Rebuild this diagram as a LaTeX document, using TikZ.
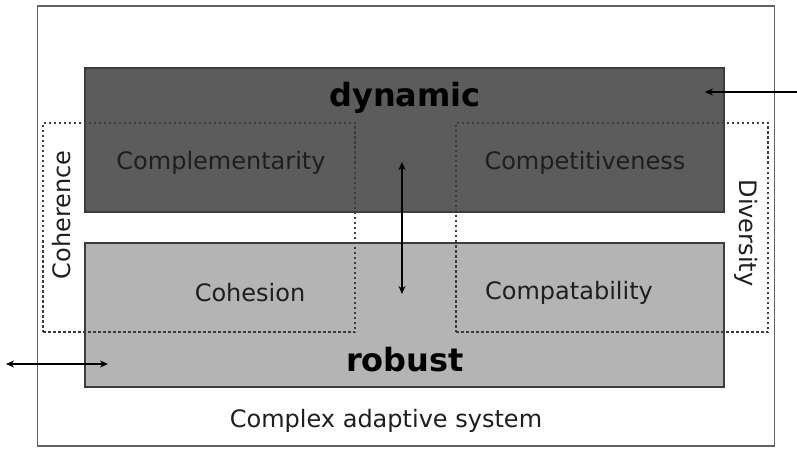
\documentclass[tikz,border=0pt]{standalone}
\usepackage{fontspec}
\setmainfont{DejaVu Sans}
\usetikzlibrary{arrows.meta}
\definecolor{darkfill}{RGB}{92,92,92}
\definecolor{lightfill}{RGB}{180,180,180}
\definecolor{edge}{RGB}{60,60,60}
\definecolor{txt}{RGB}{30,30,30}
\tikzset{
  outerbox/.style={draw=edge!80, line width=1.5pt, fill=white, minimum width=737pt, minimum height=440pt, inner sep=0pt},
  darkbox/.style={draw=edge, line width=1.2pt, fill=darkfill, minimum width=639pt, minimum height=144pt, inner sep=0pt},
  lightbox/.style={draw=edge, line width=1.2pt, fill=lightfill, minimum width=639pt, minimum height=144pt, inner sep=0pt},
  dotbox/.style={draw=edge, line width=1.3pt, dash pattern=on 2.5pt off 2.5pt, minimum width=312pt, minimum height=209pt, inner sep=0pt},
  lbl/.style={text=txt, font=\fontsize{24}{28}\selectfont, inner sep=0pt},
  big/.style={text=black, font=\fontsize{32}{36}\selectfont\bfseries, inner sep=0pt},
  arr/.style={line width=1.2pt, draw=black, {Stealth[length=8pt,width=7pt]}-{Stealth[length=8pt,width=7pt]}},
  sarr/.style={line width=1.2pt, draw=black, -{Stealth[length=8pt,width=7pt]}}
}
\begin{document}
\begin{tikzpicture}[x=1pt,y=-1pt]
\useasboundingbox (0,0) rectangle (797,449);
\fill[white] (0,0) rectangle (797,449);
\node[outerbox] (outer) at (406,226) {};
\node[darkbox] (dyn) at (404.5,140) {};
\node[lightbox] (rob) at (404.5,315) {};
\node[dotbox] (coh) at (199,227.5) {};
\node[dotbox] (div) at (612,227.5) {};
\node[big] (tdyn) at (405,98) {dynamic};
\node[big] (trob) at (405,360) {robust};
\node[lbl] (tcompl) at (221,163) {Complementarity};
\node[lbl] (tcompe) at (585,163) {Competitiveness};
\node[lbl] (tcohes) at (250,293) {Cohesion};
\node[lbl] (tcompa) at (569,293) {Compatability};
\node[lbl, rotate=90] (tcoher) at (62,215) {Coherence};
\node[lbl, rotate=-90] (tdiver) at (746,233) {Diversity};
\node[lbl] (tcas) at (386,421) {Complex adaptive system};
\coordinate (vt) at (402,162);
\coordinate (vb) at (402,294);
\draw[arr] (vt) -- (vb);
\coordinate (rin) at (797,92);
\coordinate (rout) at (705,92);
\draw[sarr] (rin) -- (rout);
\coordinate (la) at (6,364);
\coordinate (lb) at (108,364);
\draw[arr] (la) -- (lb);
\end{tikzpicture}
\end{document}
